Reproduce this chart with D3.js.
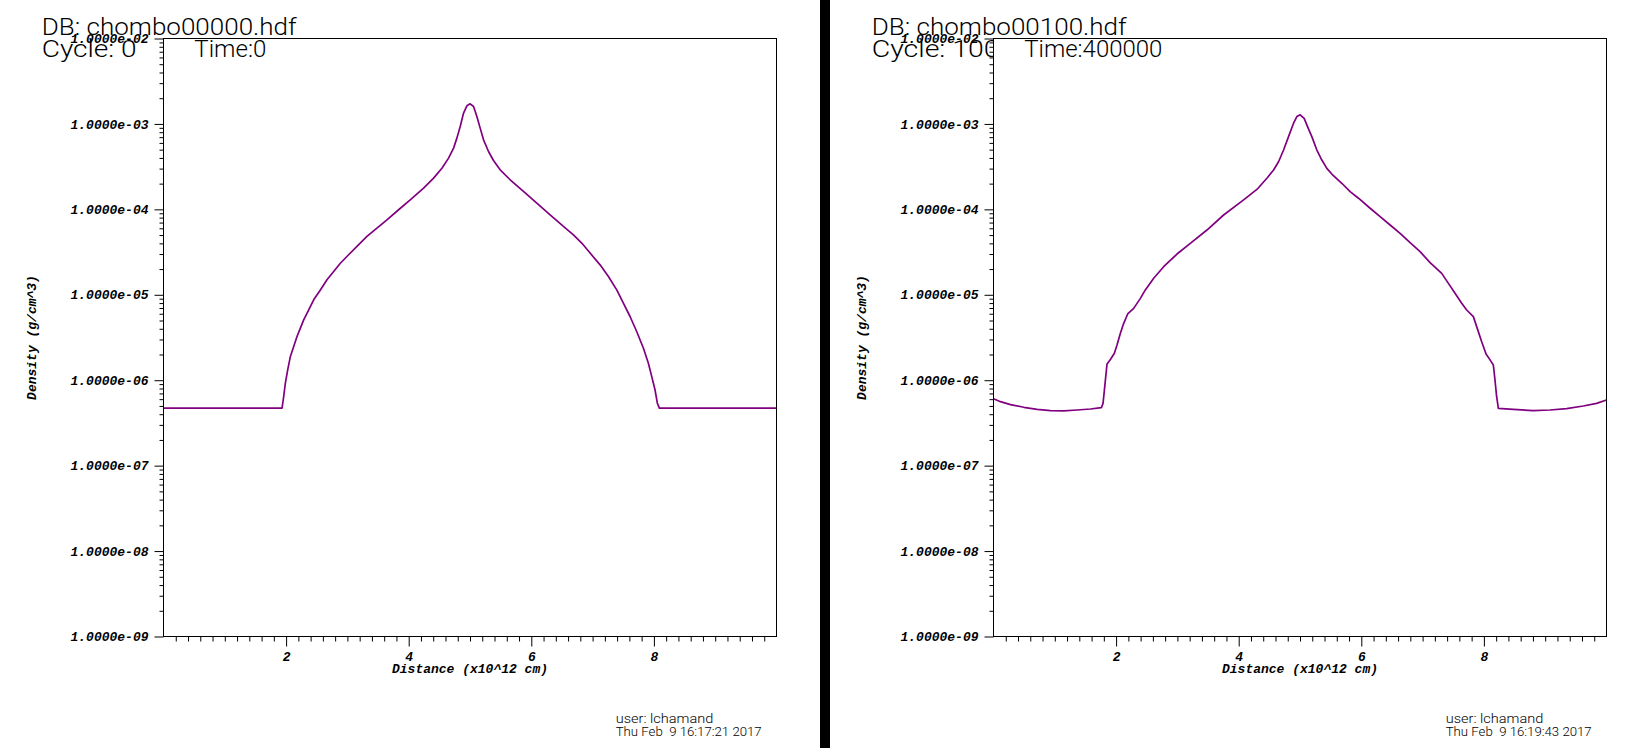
<!DOCTYPE html>
<html><head><meta charset="utf-8">
<script src="https://cdn.jsdelivr.net/npm/d3@7"></script>
<style>body{margin:0;background:#fff}svg{display:block}</style>
</head><body><svg id="c" width="1650" height="748"></svg>
<script>
// ---- data ----
const cycle0X = [0,1.934,1.961,1.988,2.026,2.070,2.124,2.178,2.233,2.287,2.369,2.450,2.559,2.667,2.776,2.885,3.020,3.156,3.319,3.482,3.645,3.835,4.025,4.243,4.406,4.542,4.650,4.732,4.786,4.840,4.895,4.949,5.003,5.058,5.112,5.166,5.221,5.302,5.383,5.492,5.655,5.872,6.090,6.307,6.524,6.687,6.823,6.959,7.122,7.258,7.394,7.502,7.611,7.719,7.828,7.910,7.964,8.018,8.056,8.089,10];
const cycle0Density = [4.71e-7,4.71e-7,6.46e-7,9.25e-7,1.32e-6,1.90e-6,2.48e-6,3.25e-6,4.07e-6,5.09e-6,6.67e-6,8.73e-6,1.14e-5,1.50e-5,1.87e-5,2.34e-5,2.94e-5,3.68e-5,4.82e-5,6.03e-5,7.55e-5,9.89e-5,1.29e-4,1.77e-4,2.32e-4,3.03e-4,3.98e-4,5.21e-4,6.82e-4,9.33e-4,1.34e-3,1.63e-3,1.72e-3,1.60e-3,1.22e-3,8.93e-4,6.52e-4,4.76e-4,3.73e-4,2.90e-4,2.22e-4,1.62e-4,1.18e-4,8.63e-5,6.31e-5,5.04e-5,4.03e-5,3.08e-5,2.24e-5,1.64e-5,1.14e-5,7.98e-6,5.57e-6,3.72e-6,2.38e-6,1.58e-6,1.11e-6,7.73e-7,5.40e-7,4.71e-7,4.71e-7];

const cycle100X = [0,0.114,0.277,0.494,0.712,0.929,1.146,1.364,1.581,1.760,1.787,1.809,1.831,1.852,1.907,1.972,2.015,2.070,2.124,2.189,2.287,2.396,2.477,2.613,2.776,2.993,3.211,3.482,3.754,4.080,4.297,4.460,4.569,4.650,4.732,4.813,4.895,4.949,5.003,5.068,5.123,5.193,5.275,5.356,5.438,5.519,5.682,5.818,5.954,6.144,6.307,6.470,6.633,6.796,6.959,7.122,7.312,7.421,7.529,7.638,7.719,7.828,7.882,7.964,8.035,8.100,8.154,8.181,8.208,8.236,8.480,8.806,9.078,9.349,9.621,9.838,10];
const cycle100Density = [6.08e-7,5.61e-7,5.18e-7,4.82e-7,4.56e-7,4.40e-7,4.37e-7,4.48e-7,4.60e-7,4.78e-7,5.36e-7,7.67e-7,1.10e-6,1.55e-6,1.75e-6,2.07e-6,2.58e-6,3.54e-6,4.63e-6,5.96e-6,6.93e-6,9.08e-6,1.14e-5,1.56e-5,2.13e-5,3.00e-5,4.00e-5,5.73e-5,8.59e-5,1.29e-4,1.71e-4,2.31e-4,2.89e-4,3.61e-4,4.95e-4,7.10e-4,1.02e-3,1.22e-3,1.28e-3,1.16e-3,9.29e-4,7.10e-4,4.95e-4,3.78e-4,3.02e-4,2.59e-4,2.02e-4,1.61e-4,1.35e-4,1.03e-4,8.20e-5,6.56e-5,5.24e-5,4.07e-5,3.20e-5,2.38e-5,1.78e-5,1.36e-5,1.04e-5,7.94e-6,6.64e-6,5.55e-6,4.24e-6,2.82e-6,2.03e-6,1.73e-6,1.51e-6,1.00e-6,6.41e-7,4.69e-7,4.56e-7,4.40e-7,4.48e-7,4.65e-7,4.99e-7,5.36e-7,5.86e-7];

const xTickValues = [2,4,6,8];
const xTickLabels = ["2","4","6","8"];
const yTickValues = [1e-9,1e-8,1e-7,1e-6,1e-5,1e-4,1e-3,1e-2];
const yTickLabels = ["1.0000e-09","1.0000e-08","1.0000e-07","1.0000e-06","1.0000e-05","1.0000e-04","1.0000e-03","1.0000e-02"];
const xAxisTitle = "Distance (x10^12 cm)";
const yAxisTitle = "Density (g/cm^3)";
const dbNames = ["DB: chombo00000.hdf","DB: chombo00100.hdf"];
const cycleLabels = ["Cycle: 0","Cycle: 100"];
const timeLabels = ["Time:0","Time:400000"];
const userLabels = ["user: lchamand","user: lchamand"];
const dateLabels = ["Thu Feb  9 16:17:21 2017","Thu Feb  9 16:19:43 2017"];
const seriesX = [cycle0X, cycle100X];
const seriesY = [cycle0Density, cycle100Density];

// ---- layout ----
const svg = d3.select("#c");
svg.append("rect").attr("width",1650).attr("height",748).attr("fill","#fff");
const PX0 = 163.5, PX1 = 776.5, PY0 = 38.5, PY1 = 636.5;
const x = d3.scaleLinear().domain([0,10]).range([PX0,PX1]);
const y = d3.scaleLog().domain([1e-9,1e-2]).range([PY1,PY0]);
const titleFont = "Roboto, 'Liberation Sans', sans-serif";
const monoFont = "'Liberation Mono', 'DejaVu Sans Mono', monospace";

const yMinor = [];
for (let e=-9; e<-2; e++) for (let k=2;k<=9;k++) yMinor.push(k*Math.pow(10,e));
const xMinor = d3.range(1,50).map(i=>i*0.2).filter(v=>!xTickValues.some(t=>Math.abs(t-v)<1e-6));

const titleW = [255, 255], cycleW = [95, 128], timeW = [72, 138];

[0,1].forEach(p=>{
  const g = svg.append("g").attr("transform",`translate(${p*830},0)`);
  // cycle text (partially covered by plot area)
  g.append("text").attr("x",41.7).attr("y",56.7).text(cycleLabels[p])
    .attr("font-family",titleFont).attr("font-weight",300).attr("font-size",24)
    .attr("textLength",cycleW[p]).attr("lengthAdjust","spacingAndGlyphs").attr("fill","#000");
  g.append("rect").attr("x",PX0).attr("y",PY0).attr("width",PX1-PX0).attr("height",PY1-PY0).attr("fill","#fff");

  const cid = "clip"+p;
  g.append("clipPath").attr("id",cid).append("rect").attr("x",PX0).attr("y",PY0).attr("width",PX1-PX0).attr("height",PY1-PY0);
  const pts = seriesX[p].map((v,i)=>[v,seriesY[p][i]]);
  g.append("path").datum(pts).attr("clip-path",`url(#${cid})`)
    .attr("d",d3.line().x(d=>x(d[0])).y(d=>y(d[1])))
    .attr("fill","none").attr("stroke","#800080").attr("stroke-width",1.7).attr("stroke-linejoin","round");

  // axes
  const ax = (sel)=>{ sel.select(".domain").remove(); sel.selectAll("line").attr("stroke","#000"); };
  g.append("g").attr("transform",`translate(0,${PY1})`)
    .call(d3.axisBottom(x).tickValues(xMinor).tickSize(5).tickFormat(""))
    .call(ax);
  g.append("g").attr("transform",`translate(0,${PY1})`)
    .call(d3.axisBottom(x).tickValues(xTickValues).tickSize(10).tickPadding(5).tickFormat((d,i)=>xTickLabels[i]))
    .call(ax)
    .selectAll("text").attr("font-family",monoFont).attr("font-weight","bold").attr("font-style","italic").attr("font-size",13).attr("fill","#000");
  g.append("g").attr("transform",`translate(${PX0},0)`)
    .call(d3.axisLeft(y).tickValues(yMinor).tickSize(4).tickFormat(""))
    .call(ax);
  g.append("g").attr("transform",`translate(${PX0},0)`)
    .call(d3.axisLeft(y).tickValues(yTickValues).tickSize(9).tickPadding(6).tickFormat((d,i)=>yTickLabels[i]))
    .call(ax)
    .selectAll("text").attr("font-family",monoFont).attr("font-weight","bold").attr("font-style","italic").attr("font-size",13).attr("fill","#000");

  g.append("rect").attr("x",PX0).attr("y",PY0).attr("width",PX1-PX0).attr("height",PY1-PY0)
    .attr("fill","none").attr("stroke","#000").attr("stroke-width",1);

  g.append("text").attr("x",(PX0+PX1)/2).attr("y",673).attr("text-anchor","middle")
    .attr("font-family",monoFont).attr("font-weight","bold").attr("font-style","italic").attr("font-size",13).text(xAxisTitle);
  g.append("text").attr("transform",`translate(36,${(PY0+PY1)/2}) rotate(-90)`).attr("text-anchor","middle")
    .attr("font-family",monoFont).attr("font-weight","bold").attr("font-style","italic").attr("font-size",13).text(yAxisTitle);

  g.append("text").attr("x",194.3).attr("y",56.7).text(timeLabels[p])
    .attr("font-family",titleFont).attr("font-weight",300).attr("font-size",24)
    .attr("textLength",timeW[p]).attr("lengthAdjust","spacingAndGlyphs");
  g.append("text").attr("x",41.7).attr("y",35).text(dbNames[p])
    .attr("font-family",titleFont).attr("font-weight",300).attr("font-size",24)
    .attr("textLength",titleW[p]).attr("lengthAdjust","spacingAndGlyphs");

  g.append("text").attr("x",615.7).attr("y",723).text(userLabels[p])
    .attr("font-family",titleFont).attr("font-weight",300).attr("font-size",12.5)
    .attr("textLength",97.6).attr("lengthAdjust","spacingAndGlyphs");
  g.append("text").attr("x",615.7).attr("y",735.7).text(dateLabels[p]).style("white-space","pre")
    .attr("font-family",titleFont).attr("font-weight",300).attr("font-size",12.5)
    .attr("textLength",146).attr("lengthAdjust","spacingAndGlyphs");
});
// separator bar
svg.append("rect").attr("x",820).attr("y",0).attr("width",10).attr("height",748).attr("fill","#000");
</script></body></html>
